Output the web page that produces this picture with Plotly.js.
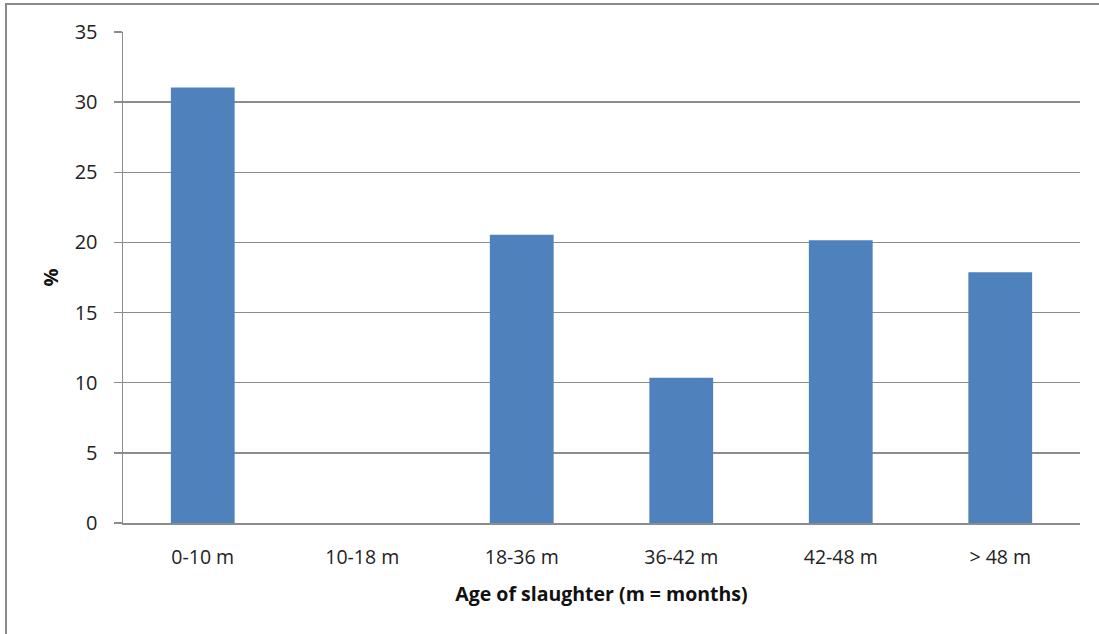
<!DOCTYPE html>
<html>
<head>
<meta charset="utf-8">
<script src="https://cdn.plot.ly/plotly-3.0.1.min.js"></script>
<style>
html,body{margin:0;padding:0;background:#fff;}
#frame{position:absolute;left:5px;top:3px;width:1094px;height:631px;border-left:2px solid #8a8a8a;border-top:2px solid #8a8a8a;}
#chart{position:absolute;left:0;top:0;width:1099px;height:634px;}
</style>
</head>
<body>
<div id="chart"></div>
<div id="frame"></div>
<script>
const categories = ["0-10 m", "10-18 m", "18-36 m", "36-42 m", "42-48 m", "> 48 m"];
const percentages = [31.05, 0, 20.55, 10.35, 20.15, 17.87];
const yTickValues = [0, 5, 10, 15, 20, 25, 30, 35];
const xTitle = "Age of slaughter (m = months)";
const yTitle = "%";

const font = "Open Sans, Lato, sans-serif";
const gridGray = "#8c8c8c";

Plotly.newPlot("chart", [{
  type: "bar",
  x: categories,
  y: percentages,
  marker: {color: "#4f81bd", line: {width: 0}},
  hoverinfo: "x+y"
}], {
  width: 1099,
  height: 634,
  margin: {l: 123, r: 19, t: 32, b: 111, pad: 0},
  paper_bgcolor: "rgba(0,0,0,0)",
  plot_bgcolor: "#fff",
  bargap: 0.6,
  showlegend: false,
  font: {family: font, size: 20, color: "#222"},
  xaxis: {
    type: "category",
    showgrid: false,
    showline: true,
    linecolor: gridGray,
    linewidth: 1.5,
    ticks: "",
    tickfont: {family: font, size: 19.5, color: "#222"},
    ticklabelstandoff: 16,
    title: {text: "<b>" + xTitle + "</b>", font: {family: font, size: 19.5, color: "#111"}, standoff: 18}
  },
  yaxis: {
    range: [0, 35],
    tickvals: yTickValues,
    showgrid: true,
    gridcolor: gridGray,
    gridwidth: 1.5,
    showline: true,
    linecolor: gridGray,
    linewidth: 1.5,
    ticks: "outside",
    ticklen: 8,
    tickcolor: gridGray,
    tickwidth: 1.5,
    ticklabelstandoff: 12,
    zeroline: false,
    tickfont: {family: font, size: 20, color: "#222"},
    title: {text: "<b>" + yTitle + "</b>", font: {family: font, size: 20, color: "#111"}, standoff: 10}
  }
}, {displayModeBar: false, staticPlot: true});
</script>
</body>
</html>
